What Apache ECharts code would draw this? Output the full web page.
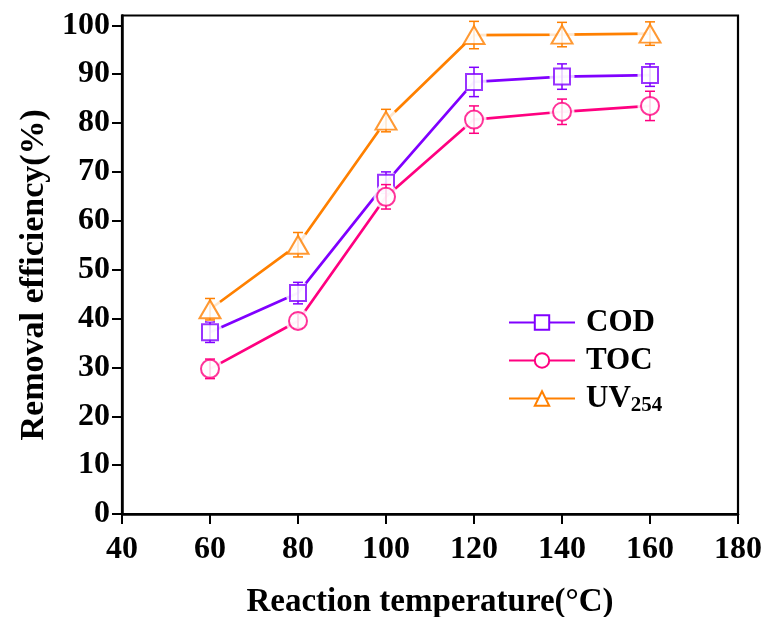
<!DOCTYPE html>
<html>
<head>
<meta charset="utf-8">
<script src="https://cdn.jsdelivr.net/npm/echarts@6/dist/echarts.min.js"></script>
<style>
html,body{margin:0;padding:0;background:#fff;}
#main{width:763px;height:617px;}
</style>
</head>
<body>
<div id="main"></div>
<script>
// ---- data ----
const temps = [60, 80, 100, 120, 140, 160];
const codVals = [37.2, 45.2, 67.8, 88.4, 89.5, 89.8];
const codErr  = [2.1, 2.2, 2.2, 3.0, 2.6, 2.3];
const tocVals = [29.7, 39.5, 64.9, 80.7, 82.3, 83.5];
const tocErr  = [2.0, 1.5, 2.5, 2.8, 2.6, 3.0];
const uvVals  = [41.9, 55.1, 80.5, 98.0, 98.1, 98.3];
const uvErr   = [2.2, 2.5, 2.3, 2.8, 2.5, 2.4];
const xTicks = [40, 60, 80, 100, 120, 140, 160, 180];
const yTicks = [0, 10, 20, 30, 40, 50, 60, 70, 80, 90, 100];
const seriesNames = ['COD', 'TOC', 'UV254'];

const FONT = 'Liberation Serif';
const defs = [
  {name: 'COD', vals: codVals, err: codErr, color: '#8000FF', symbol: 'rect', size: 16},
  {name: 'TOC', vals: tocVals, err: tocErr, color: '#FF0080', symbol: 'circle', size: 18},
  {name: 'UV254', vals: uvVals, err: uvErr, color: '#FF8000', symbol: 'triangle', size: [21, 18]}
];

const series = [];
defs.forEach((d, k) => {
  const base = 2 + k * 4;
  const pts = temps.map((t, i) => [t, d.vals[i]]);
  series.push({
    name: d.name, type: 'line', data: pts, showSymbol: false,
    symbol: d.symbol, symbolSize: d.size,
    itemStyle: {color: '#fff', borderColor: d.color, borderWidth: 2},
    lineStyle: {color: d.color, width: 2.7},
    z: base, silent: true, animation: false
  });
  series.push({
    name: d.name + '_mask', type: 'scatter', data: pts, symbol: 'circle', symbolSize: 25,
    itemStyle: {color: '#fff'}, z: base + 1, silent: true, animation: false
  });
  series.push({
    name: d.name + '_err', type: 'custom', z: base + 2, silent: true, animation: false,
    data: temps.map((t, i) => [t, d.vals[i] - d.err[i], d.vals[i] + d.err[i]]),
    encode: {x: 0, y: [1, 2]},
    renderItem: function (params, api) {
      const x = api.value(0);
      const p1 = api.coord([x, api.value(2)]);
      const p2 = api.coord([x, api.value(1)]);
      const hw = 5;
      const st = {stroke: d.color, lineWidth: 1.5};
      return {type: 'group', children: [
        {type: 'line', shape: {x1: p1[0], y1: p1[1], x2: p2[0], y2: p2[1]}, style: st},
        {type: 'line', shape: {x1: p1[0] - hw, y1: p1[1], x2: p1[0] + hw, y2: p1[1]}, style: st},
        {type: 'line', shape: {x1: p2[0] - hw, y1: p2[1], x2: p2[0] + hw, y2: p2[1]}, style: st}
      ]};
    }
  });
  series.push({
    name: d.name + '_mark', type: 'scatter', data: pts, symbol: d.symbol, symbolSize: d.size,
    itemStyle: {color: '#fff', borderColor: d.color, borderWidth: 2},
    z: base + 3, silent: true, animation: false
  });
});

const chart = echarts.init(document.getElementById('main'));
const textBase = {fontFamily: FONT, fontWeight: 'bold', color: '#000'};
chart.setOption({
  animation: false,
  backgroundColor: '#fff',
  grid: {left: 122, right: 25, top: 15.5, bottom: 103, containLabel: false, outerBoundsMode: 'none',
    show: true, borderColor: '#000', borderWidth: 2.2, backgroundColor: 'transparent'},
  legend: {
    data: seriesNames, orient: 'vertical', left: 503, top: 302,
    itemWidth: 66, itemHeight: 18, itemGap: 7,
    textStyle: Object.assign({}, textBase, {fontSize: 31, padding: [0, 0, 0, 6],
      rich: {s: {fontFamily: FONT, fontWeight: 'bold', fontSize: 21, color: '#000', padding: [15, 0, 0, 0]}}}),
    formatter: function (n) { return n === 'UV254' ? 'UV{s|254}' : n; },
    selectedMode: false
  },
  xAxis: {
    type: 'value', min: xTicks[0], max: xTicks[xTicks.length - 1], interval: 20,
    name: 'Reaction temperature(°C)', nameLocation: 'middle', nameGap: 72,
    nameTextStyle: Object.assign({}, textBase, {fontSize: 33}),
    axisLine: {show: true, onZero: false, lineStyle: {color: '#000', width: 2.5}},
    axisTick: {show: true, inside: false, length: 10, lineStyle: {color: '#000', width: 2}},
    axisLabel: Object.assign({}, textBase, {fontSize: 32, margin: 20}),
    splitLine: {show: false}
  },
  yAxis: {
    type: 'value', min: 0, max: 102, interval: 10,
    name: 'Removal efficiency(%)', nameLocation: 'middle', nameGap: 70,
    nameTextStyle: Object.assign({}, textBase, {fontSize: 34, padding: [0, 20, 0, 0]}),
    axisLine: {show: true, lineStyle: {color: '#000', width: 2.5}},
    axisTick: {show: true, inside: false, length: 10, lineStyle: {color: '#000', width: 2}, customValues: yTicks},
    axisLabel: Object.assign({}, textBase, {fontSize: 32, margin: 12, customValues: yTicks}),
    splitLine: {show: false}
  },
  series: series
});
</script>
</body>
</html>
